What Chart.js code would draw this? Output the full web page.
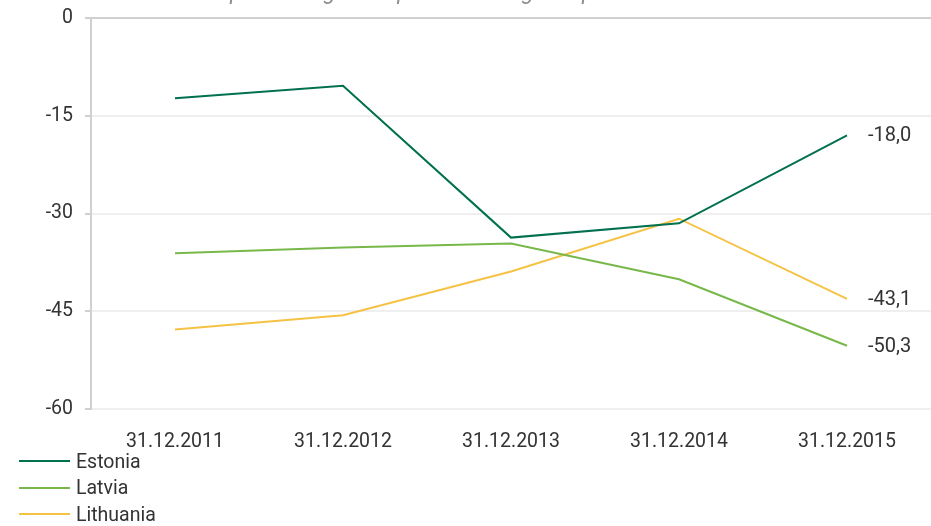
<!DOCTYPE html>
<html>
<head>
<meta charset="utf-8">
<script src="https://cdn.jsdelivr.net/npm/chart.js@4.4.1/dist/chart.umd.min.js"></script>
<style>
    html, body { margin: 0; padding: 0; background: #fff; overflow: hidden; }
    #wrap { position: relative; width: 931px; height: 526px; }
    #subtitle {
        position: absolute; left: 18px; top: -19px;
        font: italic 22px Roboto, sans-serif; line-height: 21px; letter-spacing: 1.3px;
        color: #8c8c8c; white-space: nowrap;
    }
    #legend { position: absolute; left: 19px; top: 448px; font: 19.5px Roboto, sans-serif; color: #333; }
    .item { height: 26.5px; display: flex; align-items: center; }
    .swatch { width: 51px; height: 2px; margin-right: 6px; }
</style>
</head>
<body>
<div id="wrap">
    <canvas id="chart" width="931" height="526"></canvas>
    <div id="subtitle">difference between percentages of pos. and neg. responses</div>
    <div id="legend"></div>
</div>
<script>
// Datos
const dates = ["31.12.2011", "31.12.2012", "31.12.2013", "31.12.2014", "31.12.2015"];
const estonia = [-12.3, -10.4, -33.7, -31.5, -18.0];
const latvia = [-36.1, -35.2, -34.6, -40.1, -50.3];
const lithuania = [-47.8, -45.6, -38.9, -30.8, -43.1];
const yTicks = [0, -15, -30, -45, -60];

const series = [
    { label: "Estonia", data: estonia, color: "#00704f" },
    { label: "Latvia", data: latvia, color: "#78b84a" },
    { label: "Lithuania", data: lithuania, color: "#f5c244" }
];

const font = { family: "Roboto, sans-serif", size: 19.5 };

// Etiqueta con el último valor a la derecha de cada línea
const lastValueLabels = {
    id: "lastValueLabels",
    afterDatasetsDraw(chart) {
        const ctx = chart.ctx;
        ctx.save();
        ctx.font = `20px ${font.family}`;
        ctx.fillStyle = "#333";
        ctx.textBaseline = "middle";
        chart.data.datasets.forEach((ds, i) => {
            const meta = chart.getDatasetMeta(i);
            const last = meta.data[meta.data.length - 1];
            const value = ds.data[ds.data.length - 1];
            ctx.fillText(value.toFixed(1).replace(".", ","), last.x + 21, last.y + 1);
        });
        ctx.restore();
    }
};

new Chart(document.getElementById("chart"), {
    type: "line",
    data: {
        labels: dates,
        datasets: series.map(s => ({
            label: s.label,
            data: s.data,
            borderColor: s.color,
            backgroundColor: s.color,
            borderWidth: 2,
            pointRadius: 0,
            tension: 0
        }))
    },
    options: {
        responsive: false,
        animation: false,
        layout: { padding: { top: 18, right: 0, bottom: 74, left: 0 } },
        plugins: {
            legend: { display: false },
            tooltip: { enabled: false }
        },
        scales: {
            x: {
                offset: true,
                grid: { display: false },
                border: { display: false },
                ticks: { color: "#333", font: font, padding: 13, maxRotation: 0 },
                afterFit: scale => {
                    scale.height = 43;
                    scale.paddingLeft = 0;
                    scale.paddingRight = 0;
                }
            },
            y: {
                min: -60,
                max: 0,
                afterBuildTicks: scale => { scale.ticks = yTicks.map(v => ({ value: v })); },
                grid: {
                    color: c => (c.tick && c.tick.value === 0 ? "#d0d0d0" : "#efefef"),
                    lineWidth: 2,
                    tickLength: 6,
                    tickColor: "#d0d0d0"
                },
                border: { color: "#d0d0d0", width: 2 },
                ticks: { color: "#333", font: font, padding: 12 },
                afterFit: scale => {
                    scale.width = 91;
                    scale.paddingTop = 0;
                    scale.paddingBottom = 0;
                }
            }
        }
    },
    plugins: [lastValueLabels]
});

// Leyenda vertical en HTML
const legend = document.getElementById("legend");
series.forEach(s => {
    const item = document.createElement("div");
    item.className = "item";
    item.innerHTML = `<span class="swatch" style="background:${s.color}"></span><span>${s.label}</span>`;
    legend.appendChild(item);
});
</script>
</body>
</html>
